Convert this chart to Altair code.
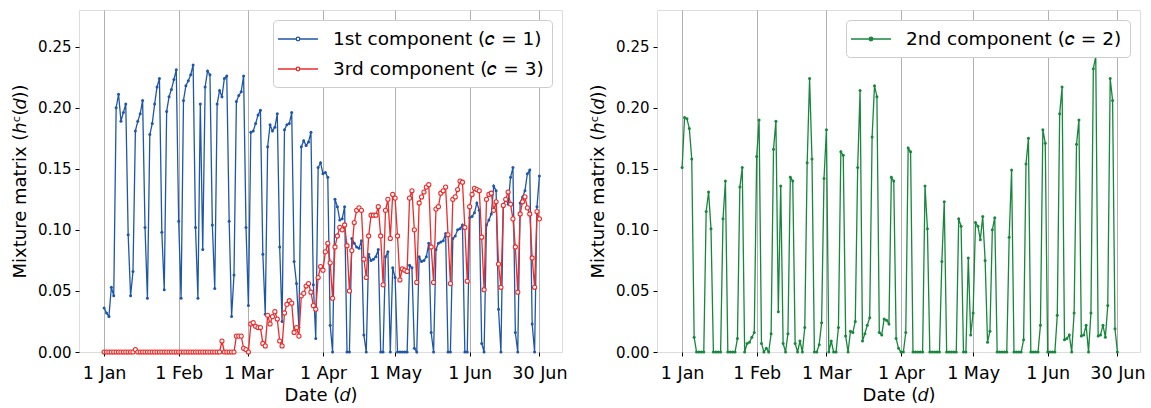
import altair as alt
import pandas as pd

# ---------------- data ----------------
days = list(range(182))  # 1 Jan 2020 ... 30 Jun 2020
tick_days = [0, 31, 60, 91, 121, 152, 181]
tick_labels = ["1 Jan", "1 Feb", "1 Mar", "1 Apr", "1 May", "1 Jun", "30 Jun"]
y_ticks = [0.0, 0.05, 0.10, 0.15, 0.20, 0.25]

comp1 = [
    0.036, 0.032, 0.029, 0.053, 0.046, 0.200, 0.211, 0.189, 0.196, 0.203,
    0.096, 0.046, 0.066, 0.181, 0.189, 0.195, 0.206, 0.102, 0.044, 0.178,
    0.187, 0.203, 0.217, 0.224, 0.098, 0.051, 0.197, 0.209, 0.215, 0.223,
    0.231, 0.107, 0.044, 0.206, 0.218, 0.222, 0.227, 0.235, 0.102, 0.044,
    0.203, 0.084, 0.217, 0.230, 0.227, 0.104, 0.052, 0.203, 0.214, 0.209,
    0.224, 0.226, 0.107, 0.029, 0.063, 0.205, 0.210, 0.213, 0.226, 0.102,
    0.038, 0.180, 0.181, 0.187, 0.194, 0.198, 0.080, 0.031, 0.168, 0.186,
    0.181, 0.184, 0.195, 0.086, 0.025, 0.182, 0.186, 0.187, 0.196, 0.074,
    0.056, 0.020, 0.168, 0.173, 0.169, 0.172, 0.180, 0.055, 0.011, 0.151,
    0.155, 0.146, 0.147, 0.143, 0.022, 0.000, 0.125, 0.119, 0.108, 0.109,
    0.119, 0.000, 0.000, 0.093, 0.089, 0.086, 0.085, 0.091, 0.014, 0.000,
    0.080, 0.075, 0.076, 0.078, 0.084, 0.000, 0.000, 0.078, 0.082, 0.000,
    0.069, 0.061, 0.000, 0.000, 0.000, 0.000, 0.000, 0.071, 0.069, 0.003,
    0.000, 0.078, 0.074, 0.075, 0.078, 0.089, 0.016, 0.000, 0.084, 0.089,
    0.090, 0.091, 0.097, 0.000, 0.000, 0.093, 0.095, 0.100, 0.101, 0.104,
    0.000, 0.000, 0.110, 0.111, 0.114, 0.122, 0.116, 0.007, 0.000, 0.104,
    0.108, 0.113, 0.136, 0.132, 0.035, 0.000, 0.120, 0.125, 0.121, 0.143,
    0.151, 0.016, 0.000, 0.122, 0.127, 0.132, 0.146, 0.149, 0.023, 0.000,
    0.119, 0.144,
]

comp2 = [
    0.151, 0.192, 0.191, 0.183, 0.158, 0.012, 0.000, 0.000, 0.000, 0.000,
    0.115, 0.131, 0.101, 0.000, 0.000, 0.000, 0.000, 0.109, 0.140, 0.000,
    0.000, 0.000, 0.000, 0.011, 0.135, 0.151, 0.000, 0.007, 0.008, 0.012,
    0.016, 0.160, 0.190, 0.007, 0.000, 0.003, 0.000, 0.015, 0.166, 0.189,
    0.033, 0.136, 0.007, 0.000, 0.015, 0.143, 0.140, 0.007, 0.000, 0.009,
    0.000, 0.020, 0.155, 0.224, 0.158, 0.000, 0.000, 0.006, 0.024, 0.142,
    0.182, 0.000, 0.009, 0.000, 0.000, 0.020, 0.164, 0.161, 0.013, 0.000,
    0.017, 0.016, 0.025, 0.151, 0.214, 0.009, 0.015, 0.022, 0.028, 0.176,
    0.218, 0.209, 0.016, 0.014, 0.027, 0.026, 0.023, 0.143, 0.140, 0.011,
    0.003, 0.000, 0.000, 0.016, 0.167, 0.164, 0.000, 0.000, 0.000, 0.000,
    0.000, 0.136, 0.101, 0.000, 0.000, 0.000, 0.000, 0.000, 0.074, 0.123,
    0.000, 0.000, 0.000, 0.000, 0.000, 0.109, 0.103, 0.000, 0.000, 0.077,
    0.014, 0.032, 0.106, 0.103, 0.092, 0.111, 0.075, 0.008, 0.017, 0.100,
    0.110, 0.000, 0.000, 0.000, 0.000, 0.000, 0.094, 0.149, 0.000, 0.000,
    0.000, 0.000, 0.010, 0.154, 0.175, 0.000, 0.000, 0.000, 0.000, 0.022,
    0.182, 0.171, 0.000, 0.000, 0.000, 0.000, 0.030, 0.195, 0.217, 0.010,
    0.011, 0.014, 0.000, 0.032, 0.170, 0.190, 0.013, 0.014, 0.022, 0.000,
    0.032, 0.232, 0.242, 0.013, 0.014, 0.022, 0.012, 0.038, 0.224, 0.206,
    0.019, 0.000,
]

comp3 = [
    0.000, 0.000, 0.000, 0.000, 0.000, 0.000, 0.000, 0.000, 0.000, 0.000,
    0.000, 0.000, 0.000, 0.002, 0.000, 0.000, 0.000, 0.000, 0.000, 0.000,
    0.000, 0.000, 0.000, 0.000, 0.000, 0.000, 0.000, 0.000, 0.000, 0.000,
    0.000, 0.000, 0.000, 0.000, 0.000, 0.000, 0.000, 0.000, 0.000, 0.000,
    0.000, 0.000, 0.000, 0.000, 0.000, 0.000, 0.000, 0.000, 0.000, 0.009,
    0.000, 0.000, 0.000, 0.000, 0.000, 0.013, 0.013, 0.013, 0.003, 0.002,
    0.000, 0.023, 0.024, 0.021, 0.020, 0.020, 0.007, 0.005, 0.030, 0.023,
    0.029, 0.033, 0.027, 0.009, 0.005, 0.032, 0.039, 0.042, 0.040, 0.016,
    0.020, 0.013, 0.046, 0.048, 0.054, 0.056, 0.049, 0.038, 0.035, 0.061,
    0.070, 0.067, 0.082, 0.089, 0.073, 0.044, 0.086, 0.095, 0.102, 0.100,
    0.104, 0.087, 0.050, 0.083, 0.106, 0.116, 0.118, 0.116, 0.076, 0.061,
    0.095, 0.112, 0.112, 0.112, 0.119, 0.095, 0.055, 0.116, 0.125, 0.093,
    0.129, 0.126, 0.095, 0.059, 0.068, 0.067, 0.066, 0.126, 0.132, 0.100,
    0.057, 0.122, 0.127, 0.131, 0.135, 0.137, 0.086, 0.057, 0.117, 0.119,
    0.130, 0.132, 0.135, 0.096, 0.056, 0.125, 0.127, 0.133, 0.140, 0.139,
    0.102, 0.058, 0.119, 0.129, 0.134, 0.133, 0.132, 0.094, 0.051, 0.125,
    0.129, 0.130, 0.116, 0.123, 0.072, 0.053, 0.120, 0.125, 0.131, 0.121,
    0.109, 0.086, 0.049, 0.113, 0.123, 0.127, 0.118, 0.113, 0.077, 0.053,
    0.115, 0.109,
]

names = ["1st component (𝑐 = 1)", "2nd component (𝑐 = 2)", "3rd component (𝑐 = 3)"]
colors = ["#1f57a8", "#17873c", "#ee2b2b"]

# ---------------- styling helpers ----------------
FONT = "DejaVu Sans"
W, H = 483, 342

label_expr = " : ".join(
    f"datum.value == {d} ? '{l}'" for d, l in zip(tick_days, tick_labels)
) + " : ''"

x_enc = alt.X(
    "day:Q",
    scale=alt.Scale(domain=[-10.45, 190.4], nice=False, zero=False),
    axis=alt.Axis(
        values=tick_days, labelExpr=label_expr, grid=True, gridColor="#b0b0b0",
        gridWidth=1, tickSize=4, tickColor="black", labelFontSize=17.5,
        titleFontSize=18, title="Date (𝑑)", labelPadding=8, titlePadding=5,
        domain=False, labelColor="black", titleColor="black", titleFontWeight="normal",
        labelFont=FONT, titleFont=FONT,
    ),
)
y_enc = alt.Y(
    "value:Q",
    scale=alt.Scale(domain=[0, 0.28], nice=False),
    axis=alt.Axis(
        values=y_ticks, format=".2f", grid=False, tickSize=4, tickColor="black",
        labelFontSize=15, titleFontSize=18, title="Mixture matrix (ℎᶜ(𝑑))",
        labelPadding=4, titlePadding=8, domain=False, labelColor="black",
        titleColor="black", titleFontWeight="normal", labelFont=FONT, titleFont=FONT,
    ),
)

SYMBOL = "M-2,0H-0.18M0.18,0H2M-0.18,0A0.18,0.18,0,1,1,0.18,0A0.18,0.18,0,1,1,-0.18,0Z"


def make_legend(fill):
    return alt.Legend(
        title=None, orient="top-right", offset=10, symbolType=SYMBOL, symbolSize=400,
        symbolStrokeWidth=1.3, symbolOffset=6, symbolFillColor=fill, symbolOpacity=1,
        labelOffset=24, labelFontSize=18.5,
        labelFont=FONT, labelColor="black", fillColor="white", strokeColor="#cccccc",
        cornerRadius=4, padding=8, rowPadding=9, labelLimit=400,
    )


def frame(values, name):
    return pd.DataFrame({"day": days, "value": values, "series": name})


df1 = frame(comp1, names[0])
df2 = frame(comp2, names[1])
df3 = frame(comp3, names[2])

# ---------------- left panel: components 1 and 3 ----------------
left_scale = alt.Scale(domain=[names[0], names[2]], range=[colors[0], colors[2]])
left_legend = make_legend("white")

l1 = alt.Chart(df1).mark_line(strokeWidth=1.3).encode(
    x=x_enc, y=y_enc, color=alt.Color("series:N", scale=left_scale, legend=left_legend)
)
p1 = alt.Chart(df1).mark_circle(size=9, color=colors[0], opacity=1).encode(x=x_enc, y=y_enc)
l3 = alt.Chart(df3).mark_line(strokeWidth=1.3).encode(
    x=x_enc, y=y_enc, color=alt.Color("series:N", scale=left_scale, legend=left_legend)
)
p3 = alt.Chart(df3).mark_circle(
    size=17, fill="white", stroke=colors[2], strokeWidth=1.1, opacity=1
).encode(x=x_enc, y=y_enc)

left = alt.layer(l1, p1, l3, p3).properties(width=W, height=H)

# ---------------- right panel: component 2 ----------------
right_scale = alt.Scale(domain=[names[1]], range=[colors[1]])
right_legend = make_legend(colors[1])
l2 = alt.Chart(df2).mark_line(strokeWidth=1.3).encode(
    x=x_enc, y=y_enc, color=alt.Color("series:N", scale=right_scale, legend=right_legend)
)
p2 = alt.Chart(df2).mark_circle(size=9, color=colors[1], opacity=1).encode(x=x_enc, y=y_enc)
right = alt.layer(l2, p2).properties(width=W, height=H)

chart = (
    alt.hconcat(left, right, spacing=21)
    .resolve_scale(color="independent")
    .configure_view(stroke="black", strokeWidth=1)
    .configure(padding={"left": 11, "top": 9, "right": 5, "bottom": 2}, background="white")
)

chart.save("out.html", embed_options={"renderer": "svg", "actions": False})
